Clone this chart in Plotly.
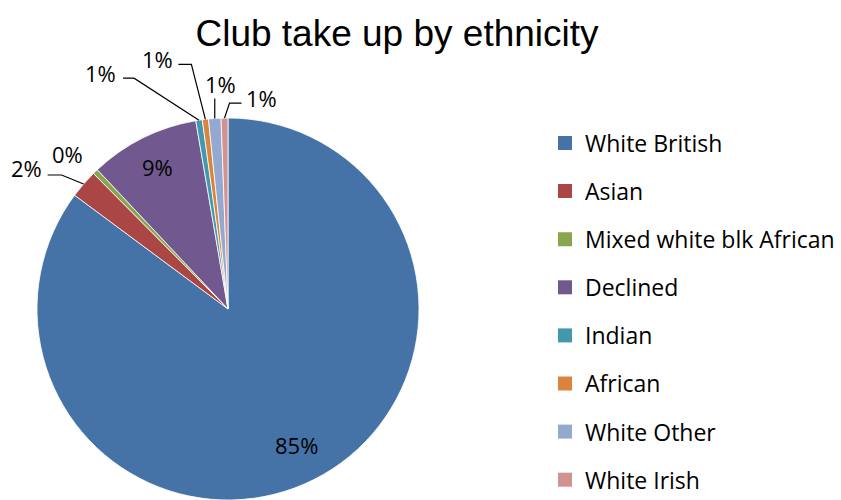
import math
import plotly.graph_objects as go

# ---- data ----
labels = ["White British", "Asian", "Mixed white blk African", "Declined",
          "Indian", "African", "White Other", "White Irish"]
values = [85.2, 2.4, 0.45, 9.3, 0.55, 0.52, 1.05, 0.58]
colors = ["#4572A7", "#AA4643", "#89A54E", "#71588F",
          "#4198AF", "#DB843D", "#93A9CF", "#D19392"]
title_text = "Club take up by ethnicity"

# ---- layout constants (pixels) ----
W, H = 841, 500
CX, CY, R = 228, 309, 191
FONT = "Open Sans"
LBL_SIZE = 22
LEG_SIZE = 23

# label style: (mode, params)
#  inside: radius fraction
#  outside: list of offsets (from slice edge point) for leader polyline, text offset
label_style = [
    ("in", 0.80),
    ("out", [(-22, -9), (-36, -9)], (-57, -16)),
    ("out", [], (-28, -18)),
    ("in", 0.83),
    ("out", [(-65, -42), (-76, -42)], (-99, -47)),
    ("out", [(-14, -55), (-27, -55)], (-48, -60)),
    ("out", [(0, -20)], (6, -34)),
    ("out", [(5, -15), (17, -15)], (37, -20)),
]


def px2paper(x, y):
    return x / W, 1 - y / H


fig = go.Figure()
fig.add_trace(go.Pie(
    labels=labels, values=values, sort=False, direction="clockwise",
    marker=dict(colors=colors, line=dict(color="white", width=0.8)),
    textinfo="none", showlegend=False,
    domain=dict(x=[(CX - R) / W, (CX + R) / W], y=[0, 1 - (CY - R) / H]),
))

# legend entries via dummy traces (so vertical spacing can match)
for lab, col in zip(labels, colors):
    fig.add_trace(go.Scatter(
        x=[None], y=[None], mode="markers", name=lab, legendgroup=lab,
        marker=dict(symbol="square", size=14, color=col),
    ))

total = sum(values)
cum = 0.0
annotations = []
shapes = []
for v, st in zip(values, label_style):
    mid = (cum + v / 2) / total * 2 * math.pi
    cum += v
    pct = int(math.floor(v / total * 100 + 0.5))
    txt = f"{pct}%"
    if st[0] == "in":
        fr = st[1]
        tx = CX + fr * R * math.sin(mid)
        ty = CY - fr * R * math.cos(mid)
    else:
        ex = CX + R * math.sin(mid)
        ey = CY - R * math.cos(mid)
        pts = [(ex, ey)] + [(ex + dx, ey + dy) for dx, dy in st[1]]
        if len(pts) > 1:
            path = ""
            for i, (px, py) in enumerate(pts):
                qx, qy = px2paper(px, py)
                path += ("M" if i == 0 else " L") + f" {qx:.5f} {qy:.5f}"
            shapes.append(dict(type="path", path=path, xref="paper", yref="paper",
                               line=dict(color="black", width=1.2)))
        tx = ex + st[2][0]
        ty = ey + st[2][1]
    ax_, ay_ = px2paper(tx, ty)
    annotations.append(dict(x=ax_, y=ay_, xref="paper", yref="paper", text=txt,
                            showarrow=False, xanchor="center", yanchor="middle",
                            font=dict(family=FONT, size=LBL_SIZE, color="black")))

item_h = LEG_SIZE * 1.3 + 3
fig.update_layout(
    width=W, height=H,
    margin=dict(l=0, r=0, t=0, b=0, autoexpand=False),
    paper_bgcolor="white", plot_bgcolor="white",
    title=dict(text=title_text, x=397 / W, xref="paper", xanchor="center",
               y=1 - 33 / H, yref="container", yanchor="middle",
               font=dict(family="Liberation Sans, Arial", size=37, color="black")),
    xaxis=dict(visible=False), yaxis=dict(visible=False),
    showlegend=True,
    legend=dict(x=545 / W, xanchor="left", y=1 - (143 - item_h / 2 - 5) / H,
                yanchor="top",
                traceorder="grouped", tracegroupgap=48.1 - item_h,
                font=dict(family=FONT, size=LEG_SIZE, color="black"),
                bgcolor="rgba(0,0,0,0)"),
    annotations=annotations, shapes=shapes,
)

fig.write_html("out.html")
